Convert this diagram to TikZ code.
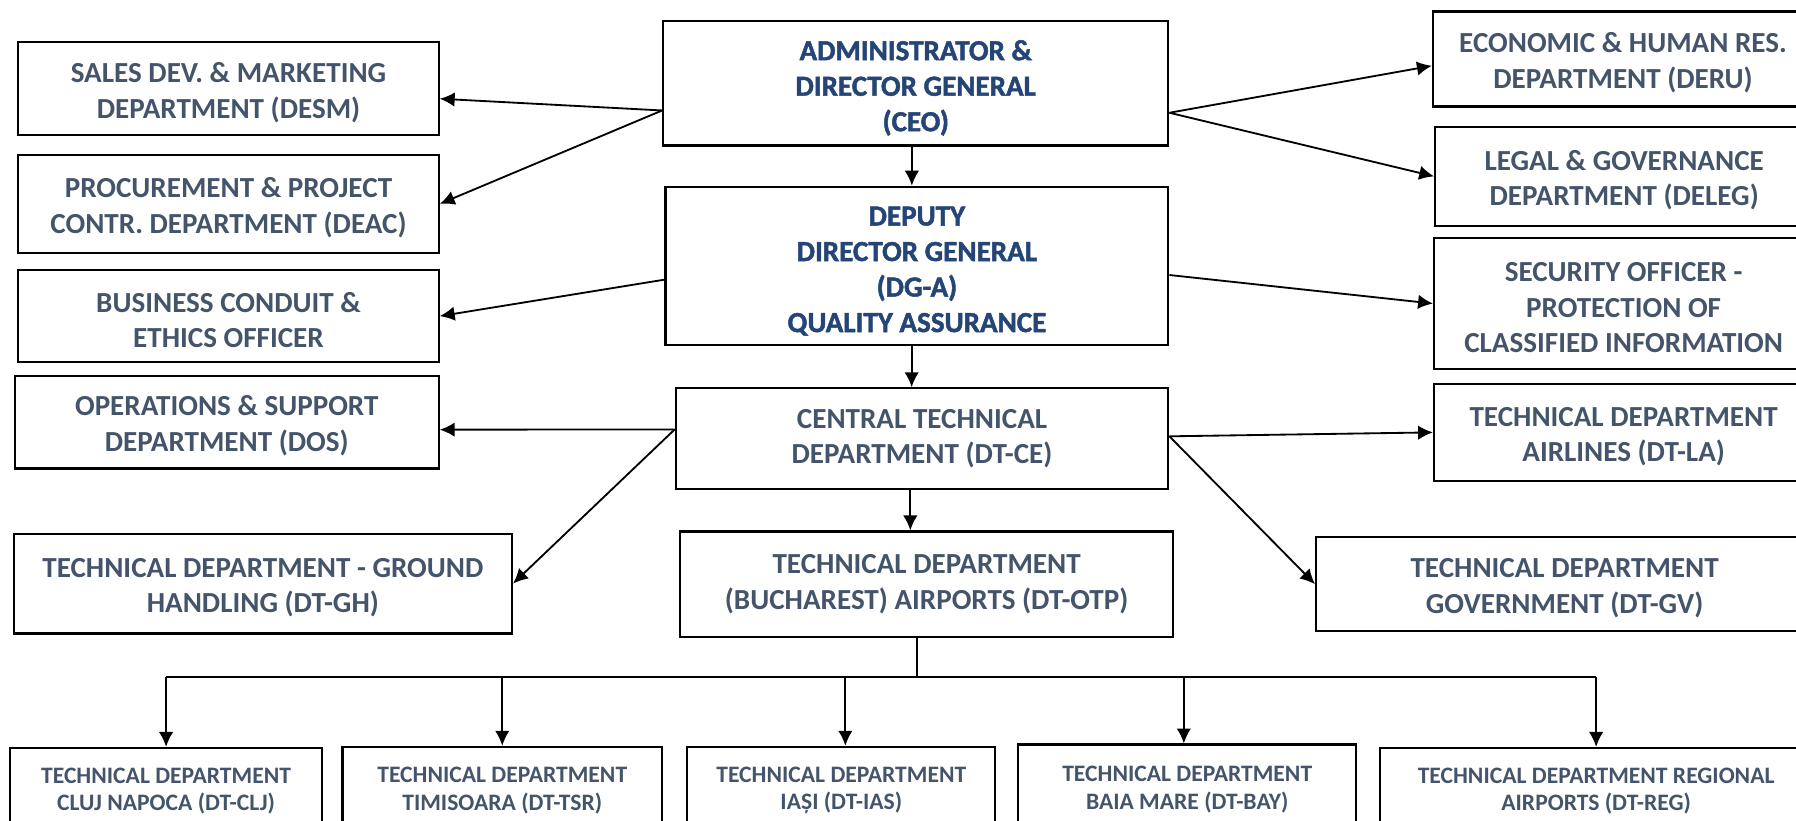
\documentclass[tikz,border=0pt]{standalone}
\usepackage{fontspec}
\setmainfont{Carlito}
\newfontfamily\topfont{Carlito Bold}[FakeBold=1.6]
\usetikzlibrary{arrows.meta,calc}
\definecolor{slate}{HTML}{44546A}
\definecolor{navy}{HTML}{244576}
\newcommand\strA{\rule{0pt}{12pt}}
\newcommand\strT{\rule{0pt}{13pt}}
\newcommand\strS{\rule{0pt}{9pt}}
\begin{document}
\begin{tikzpicture}[x=0.5pt,y=-0.5pt,
 box/.style={draw, line width=0.95pt, align=center, inner sep=0pt, text=slate, font=\fontsize{12.7}{15.5}\selectfont\bfseries},
 topbox/.style={box, text=navy, font=\fontsize{12.7}{15.5}\selectfont\topfont},
 smallbox/.style={box, font=\fontsize{10.3}{12}\selectfont\bfseries},
 arr/.style={-{Latex[length=6.5pt,width=6.3pt]}, line width=0.8pt},
 ln/.style={line width=0.8pt}]
\useasboundingbox (0,0) rectangle (1568,716);
% centre column
\node[topbox, minimum width=220.5pt, minimum height=54.5pt] (ceo) at (799.5,72.5) {\strT ADMINISTRATOR \&\\DIRECTOR GENERAL\\(CEO)};
\node[topbox, minimum width=219.5pt, minimum height=69pt] (dga) at (800.5,232) {\strT DEPUTY\\DIRECTOR GENERAL\\(DG-A)\\QUALITY ASSURANCE};
\node[box, minimum width=215pt, minimum height=44pt] (dtce) at (805,383) {CENTRAL TECHNICAL\\DEPARTMENT (DT-CE)};
\node[box, minimum width=215pt, minimum height=46pt] (otp) at (809,510) {TECHNICAL DEPARTMENT\\(BUCHAREST) AIRPORTS (DT-OTP)};
% left column
\node[box, minimum width=183.5pt, minimum height=40.5pt] (desm) at (199.5,77.5) {\strA SALES DEV. \& MARKETING\\DEPARTMENT (DESM)};
\node[box, minimum width=183.5pt, minimum height=43pt] (deac) at (199.5,178) {\strA PROCUREMENT \& PROJECT\\CONTR. DEPARTMENT (DEAC)};
\node[box, minimum width=183.5pt, minimum height=40pt] (bce) at (199.5,276) {\strA BUSINESS CONDUIT \&\\ETHICS OFFICER};
\node[box, minimum width=185pt, minimum height=40.5pt] (dos) at (198,368.5) {\strA OPERATIONS \& SUPPORT\\DEPARTMENT (DOS)};
\node[box, minimum width=217.5pt, minimum height=43.5pt] (dtgh) at (229.5,509.5) {\strA TECHNICAL DEPARTMENT - GROUND\\HANDLING (DT-GH)};
% right column
\node[box, minimum width=166pt, minimum height=41.5pt] (deru) at (1417,51.5) {\strA ECONOMIC \& HUMAN RES.\\DEPARTMENT (DERU)};
\node[box, minimum width=165pt, minimum height=43pt] (deleg) at (1418,154) {\strA LEGAL \& GOVERNANCE\\DEPARTMENT (DELEG)};
\node[box, minimum width=165.5pt, minimum height=57pt] (sec) at (1417.5,265) {\strA SECURITY OFFICER -\\PROTECTION OF\\CLASSIFIED INFORMATION};
\node[box, minimum width=165.5pt, minimum height=42.5pt] (dtla) at (1417.5,377.5) {\strA TECHNICAL DEPARTMENT\\AIRLINES (DT-LA)};
\node[box, minimum width=217pt, minimum height=41pt] (dtgv) at (1366,510) {\strA TECHNICAL DEPARTMENT\\GOVERNMENT (DT-GV)};
% bottom row
\node[smallbox, minimum width=136pt, minimum height=35.5pt] (clj) at (145,688.5) {\strS TECHNICAL DEPARTMENT\\CLUJ NAPOCA (DT-CLJ)};
\node[smallbox, minimum width=139.5pt, minimum height=36pt] (tsr) at (438.5,688) {\strS TECHNICAL DEPARTMENT\\TIMISOARA (DT-TSR)};
\node[smallbox, minimum width=134.5pt, minimum height=36pt] (ias) at (734.5,688) {\strS TECHNICAL DEPARTMENT\\IAȘI (DT-IAS)};
\node[smallbox, minimum width=147.5pt, minimum height=37pt] (bay) at (1036.5,687) {\strS TECHNICAL DEPARTMENT\\BAIA MARE (DT-BAY)};
\node[smallbox, minimum width=188.5pt, minimum height=35.5pt] (reg) at (1393.5,688.5) {\strS TECHNICAL DEPARTMENT REGIONAL\\AIRPORTS (DT-REG)};
% junction points
\coordinate (ceoL) at ($(ceo.north west)!0.716!(ceo.south west)$);
\coordinate (ceoR) at ($(ceo.north east)!0.734!(ceo.south east)$);
\coordinate (dgaL) at ($(dga.north west)!0.587!(dga.south west)$);
\coordinate (dgaR) at ($(dga.north east)!0.558!(dga.south east)$);
\coordinate (dtceL) at ($(dtce.north west)!0.41!(dtce.south west)$);
\coordinate (dtceR) at ($(dtce.north east)!0.477!(dtce.south east)$);
\coordinate (dgaT) at ($(dga.north west)!0.49!(dga.north east)$);
\coordinate (dtceT) at ($(dtce.north west)!0.479!(dtce.north east)$);
\coordinate (otpT) at ($(otp.north west)!0.467!(otp.north east)$);
\coordinate (iasT) at ($(ias.north west)!0.513!(ias.north east)$);
\coordinate (bayT) at ($(bay.north west)!0.49!(bay.north east)$);
\coordinate (otpB) at ($(otp.south west)!0.481!(otp.south east)$);
\coordinate (bus) at ($(otpB)+(0,34)$);
% connectors
\draw[arr] (ceoL) -- ($(desm.north east)!0.605!(desm.south east)$);
\draw[arr] (ceoL) -- (deac.east);
\draw[arr] (ceoR) -- ($(deru.north west)!0.57!(deru.south west)$);
\draw[arr] (ceoR) -- (deleg.west);
\draw[arr] (ceo.south -| dgaT) -- (dgaT);
\draw[arr] (dgaL) -- (bce.east);
\draw[arr] (dgaR) -- (sec.west);
\draw[arr] (dga.south -| dtceT) -- (dtceT);
\draw[arr] (dtceL) -- ($(dos.north east)!0.58!(dos.south east)$);
\draw[arr] (dtceL) -- (dtgh.east);
\draw[arr] (dtceR) -- (dtla.west);
\draw[arr] (dtceR) -- (dtgv.west);
\draw[arr] (dtce.south -| otpT) -- (otpT);
\draw[ln] (otpB) -- (bus);
\draw[ln] (bus -| clj.north) -- (bus -| reg.north);
\draw[arr] (bus -| clj.north) -- (clj.north);
\draw[arr] (bus -| tsr.north) -- (tsr.north);
\draw[arr] (bus -| iasT) -- (iasT);
\draw[arr] (bus -| bayT) -- (bayT);
\draw[arr] (bus -| reg.north) -- (reg.north);
\end{tikzpicture}
\end{document}
